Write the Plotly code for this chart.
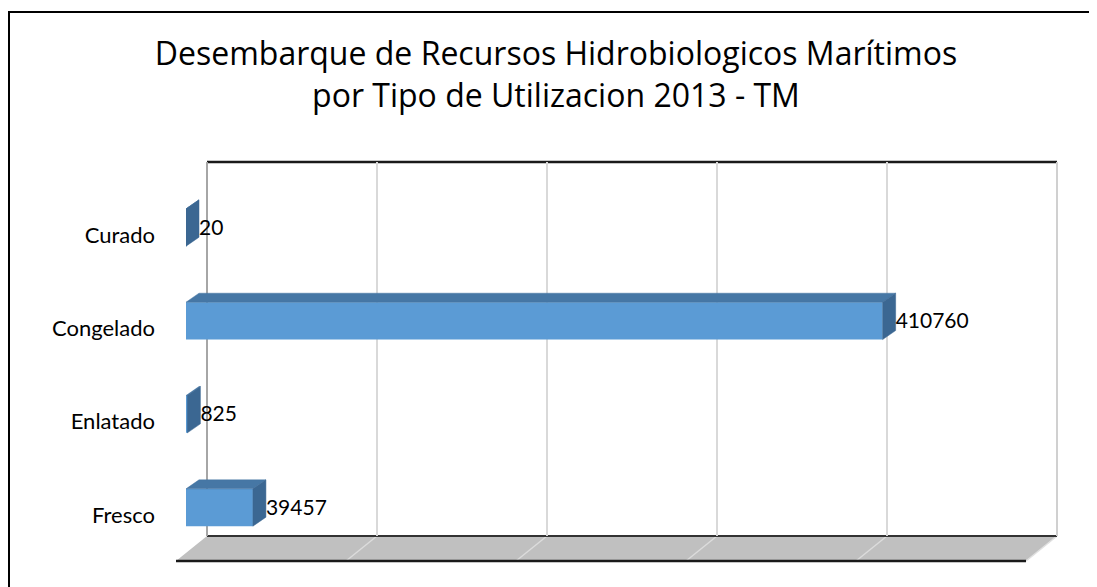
import plotly.graph_objects as go

# ---- data ----
categories = ["Fresco", "Enlatado", "Congelado", "Curado"]
values = [39457, 825, 410760, 20]
value_labels = ["39457", "825", "410760", "20"]
title_lines = ["Desembarque de Recursos Hidrobiologicos Marítimos",
               "por Tipo de Utilizacion 2013 - TM"]
grid_ticks = [100000, 200000, 300000, 400000]
axis_max = 500000

# ---- geometry (pixel helpers; page body adds an 8px margin) ----
W, H = 1097, 587
OFF = 8
def px(x): return (x - OFF) / W
def py(y): return (H - (y - OFF)) / H

FONT = "Lato"
TFONT = "Open Sans"
FRONT = "#5b9bd5"
TOP = "#4677a5"
SIDE = "#3b6792"

# front plane axis scale
x_left, x_right = 186, 1034
units_per_px = axis_max / (x_right - x_left)
cat_px = 93.33
dx = 13 * units_per_px        # depth in value units
dy = 9 / cat_px               # depth in category units
bar_w = 0.4
bar_off = -0.12

pos = list(range(len(categories)))

fig = go.Figure()

# back wall subplot (x / y) - gridlines only
fig.add_trace(go.Scatter(x=[None], y=[None], xaxis="x", yaxis="y", showlegend=False, hoverinfo="skip"))

# front bars on x2 / y2
fig.add_trace(go.Bar(
    x=values, y=pos, orientation="h", width=bar_w, offset=bar_off,
    marker=dict(color=FRONT, line=dict(width=0)),
    xaxis="x2", yaxis="y2", showlegend=False, hoverinfo="skip"))

# 3D faces computed from the values
top_x, top_y, side_x, side_y = [], [], [], []
for p, v in zip(pos, values):
    yt = p + bar_off + bar_w
    yb = p + bar_off
    top_x += [0, v, v + dx, dx, 0, None]
    top_y += [yt, yt, yt + dy, yt + dy, yt, None]
    side_x += [v, v + dx, v + dx, v, v, None]
    side_y += [yb, yb + dy, yt + dy, yt, yb, None]

fig.add_trace(go.Scatter(x=top_x, y=top_y, fill="toself", fillcolor=TOP, mode="lines",
                         line=dict(width=0.5, color=TOP), xaxis="x2", yaxis="y2",
                         showlegend=False, hoverinfo="skip"))
fig.add_trace(go.Scatter(x=side_x, y=side_y, fill="toself", fillcolor=SIDE, mode="lines",
                         line=dict(width=0.5, color=SIDE), xaxis="x2", yaxis="y2",
                         showlegend=False, hoverinfo="skip"))

# data labels
fig.add_trace(go.Scatter(
    x=[v + dx for v in values], y=[p + bar_off + bar_w / 2 - 0.02 for p in pos],
    mode="text", text=value_labels, textposition="middle right",
    textfont=dict(family=FONT, size=21, color="black"),
    xaxis="x2", yaxis="y2", showlegend=False, hoverinfo="skip"))

# shapes: back wall edges, floor, border
wall_x0, wall_x1, wall_top, wall_bot = 207, 1057, 162, 536
floor_dx, floor_dy = -31, 25
shapes = []
shapes.append(dict(type="path", xref="paper", yref="paper", layer="below",
                   path=f"M {px(wall_x0)} {py(wall_bot)} L {px(wall_x1)} {py(wall_bot)} "
                        f"L {px(wall_x1 + floor_dx)} {py(wall_bot + floor_dy)} "
                        f"L {px(wall_x0 + floor_dx)} {py(wall_bot + floor_dy)} Z",
                   fillcolor="#c0c0c0", line=dict(width=0)))
for t in grid_ticks:
    shapes.append(dict(type="line", xref="x", yref="paper", layer="below",
                       x0=t, x1=t + floor_dx * (axis_max / (wall_x1 - wall_x0)),
                       y0=py(wall_bot), y1=py(wall_bot + floor_dy),
                       line=dict(color="#dcdcdc", width=1.5)))
shapes.append(dict(type="line", xref="paper", yref="paper", layer="below",
                   x0=px(wall_x1), y0=py(wall_bot), x1=px(wall_x1 + floor_dx), y1=py(wall_bot + floor_dy),
                   line=dict(color="#e0e0e0", width=1.5)))
shapes.append(dict(type="line", xref="paper", yref="paper", layer="below",
                   x0=px(wall_x0 + floor_dx), y0=py(wall_bot + floor_dy),
                   x1=px(wall_x1 + floor_dx), y1=py(wall_bot + floor_dy),
                   line=dict(color="#1a1a1a", width=2.5)))
shapes.append(dict(type="line", xref="paper", yref="paper", layer="below",
                   x0=px(wall_x0), y0=py(wall_bot), x1=px(wall_x1), y1=py(wall_bot),
                   line=dict(color="#333333", width=2)))
shapes.append(dict(type="line", xref="paper", yref="paper", layer="below",
                   x0=px(wall_x0), y0=py(wall_top), x1=px(wall_x1), y1=py(wall_top),
                   line=dict(color="#1a1a1a", width=2.5)))
shapes.append(dict(type="line", xref="paper", yref="paper", layer="below",
                   x0=px(wall_x0), y0=py(wall_top), x1=px(wall_x0), y1=py(wall_bot),
                   line=dict(color="#a6a6a6", width=2)))
shapes.append(dict(type="line", xref="paper", yref="paper", layer="below",
                   x0=px(wall_x1), y0=py(wall_top), x1=px(wall_x1), y1=py(wall_bot),
                   line=dict(color="#d0d0d0", width=2)))
shapes.append(dict(type="rect", xref="paper", yref="paper", layer="above",
                   x0=px(9), y0=-0.1, x1=1.1, y1=py(12),
                   line=dict(color="black", width=2), fillcolor="rgba(0,0,0,0)"))

cat_top, cat_bot = 235 - cat_px / 2, 515 + cat_px / 2

fig.update_layout(
    width=W, height=H,
    margin=dict(l=0, r=0, t=0, b=0),
    paper_bgcolor="white", plot_bgcolor="rgba(0,0,0,0)",
    showlegend=False,
    title=dict(text="<br>".join(title_lines), x=px(556), xanchor="center",
               xref="paper", y=py(65), yref="paper", yanchor="middle",
               font=dict(family=TFONT, size=32, color="black")),
    xaxis=dict(domain=[px(wall_x0), px(wall_x1)], range=[0, axis_max], anchor="y",
               tickmode="array", tickvals=grid_ticks, showticklabels=False,
               showgrid=True, gridcolor="#d9d9d9", gridwidth=2, zeroline=False, showline=False,
               fixedrange=True),
    yaxis=dict(domain=[py(wall_bot), py(wall_top)], range=[0, 1], anchor="x",
               showticklabels=False, showgrid=False, zeroline=False, showline=False,
               fixedrange=True),
    xaxis2=dict(domain=[px(x_left), px(x_right)], range=[0, axis_max], anchor="y2",
                visible=False, fixedrange=True),
    yaxis2=dict(domain=[py(cat_bot), py(cat_top)], range=[-0.5, 3.5], anchor="x2",
                tickmode="array", tickvals=pos, ticktext=categories,
                tickfont=dict(family=FONT, size=22, color="black"),
                ticks="", ticklabelstandoff=30,
                showgrid=False, zeroline=False, showline=False, fixedrange=True),
    shapes=shapes,
)

fig.write_html("out.html")
